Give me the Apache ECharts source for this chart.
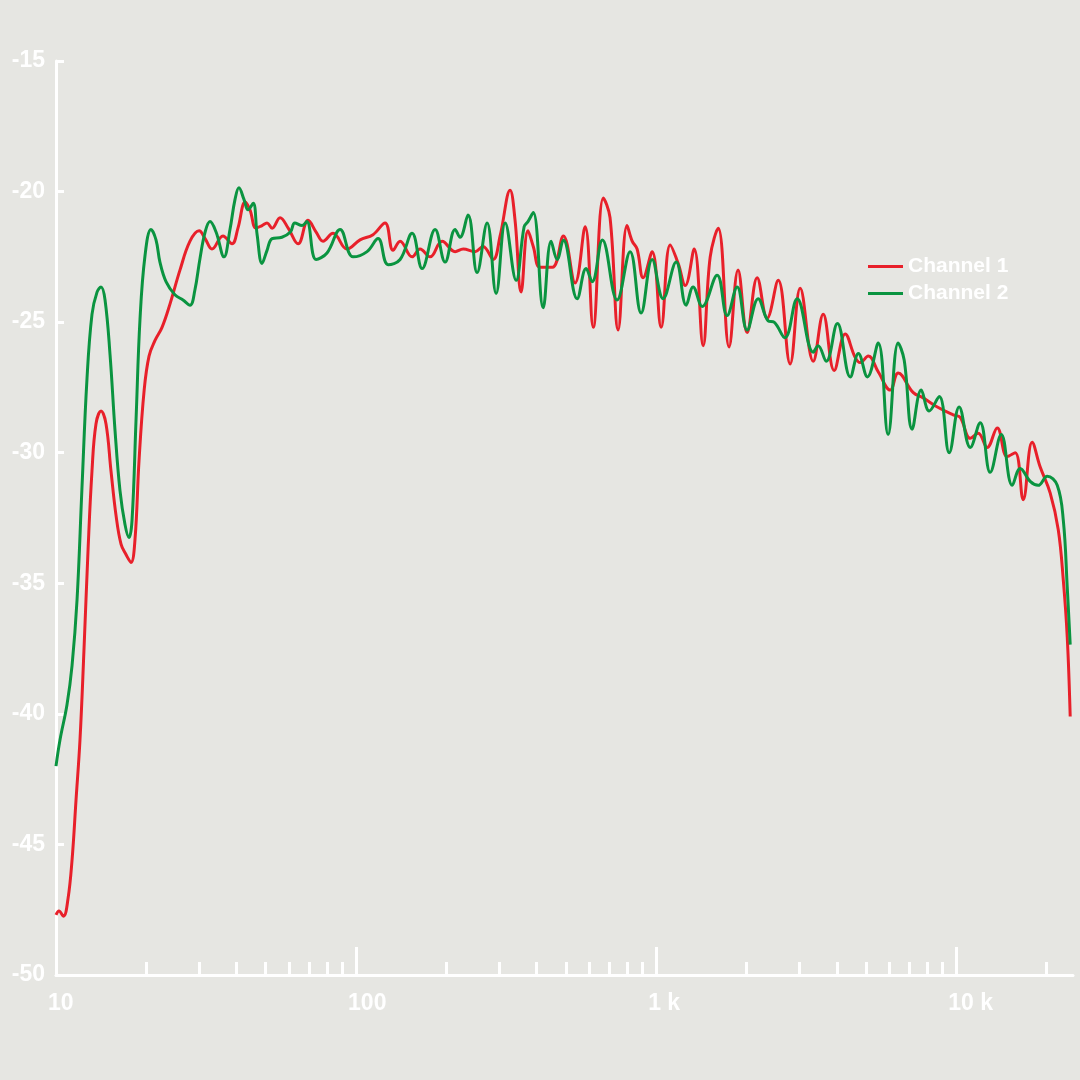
<!DOCTYPE html>
<html>
<head>
<meta charset="utf-8">
<script src="https://cdn.jsdelivr.net/npm/echarts@6/dist/echarts.min.js"></script>
<style>
html,body{margin:0;padding:0;background:#e6e6e2;}
#chart{width:1080px;height:1080px;}
</style>
</head>
<body>
<div id="chart"></div>
<script>
// Channel 1 (red)
const ch1Freq = [10,10.23,10.59,10.96,11.31,11.66,12.02,12.39,12.79,13.18,13.59,14.13,14.68,15.25,15.85,16.47,17.11,17.78,18.34,18.91,19.67,20.42,21.38,22.56,23.99,25.9,27.96,29.99,31.4,33.1,36.0,38.6,40.4,42.7,44.3,46.4,48.6,50.5,52.5,55.8,59.4,64.1,69.2,73.6,77.6,83.8,93.3,103.1,113.9,124.9,132.8,140.2,153.7,163.4,176.4,193.5,213.8,227.5,249.2,264.9,286.4,302,326,338.7,354.8,374,389.5,410.6,450.8,490.7,537,580,617,667,702,747,800,832,864,905,970,1039,1114,1184,1250,1339,1434,1514,1610,1750,1875,2010,2171,2344,2551,2796,3020,3338,3603,3920,4266,4605,4786,5093,5495,6026,6405,7194,7762,8650,9772,10310,11140,11840,12680,13700,14790,15730,16720,17910,19050,20570,21880,22750,23440,23980];
const ch1Db = [-47.7,-47.55,-47.75,-47.1,-45.6,-43.3,-41.0,-37.6,-33.7,-30.7,-28.9,-28.4,-28.9,-30.7,-32.4,-33.5,-33.9,-34.2,-33.3,-30.3,-27.6,-26.3,-25.7,-25.2,-24.3,-23.0,-21.9,-21.5,-21.8,-22.2,-21.7,-22.0,-21.4,-20.4,-20.7,-21.4,-21.3,-21.2,-21.4,-21.0,-21.4,-22.0,-21.1,-21.55,-21.9,-21.6,-22.2,-21.85,-21.65,-21.2,-22.25,-21.9,-22.5,-22.2,-22.5,-21.9,-22.3,-22.2,-22.3,-22.1,-22.6,-21.7,-19.95,-21.1,-23.85,-21.5,-22.1,-22.9,-22.9,-21.7,-23.5,-21.35,-25.2,-20.25,-21.0,-25.3,-21.3,-21.9,-22.2,-23.3,-22.3,-25.2,-22.05,-22.75,-23.6,-22.2,-25.9,-22.5,-21.4,-25.95,-23.0,-25.4,-23.3,-24.85,-23.4,-26.6,-23.7,-26.5,-24.7,-26.85,-25.45,-26.35,-26.55,-26.3,-26.9,-27.6,-26.95,-27.7,-27.9,-28.25,-28.55,-28.65,-29.45,-29.25,-29.8,-29.05,-30.15,-30.0,-31.8,-29.6,-30.55,-31.55,-32.95,-34.9,-37.05,-40.1];

// Channel 2 (green)
const ch2Freq = [10,10.31,10.88,11.31,11.75,12.2,12.68,13.18,13.7,14.13,14.57,15.14,15.73,16.34,16.98,17.5,17.92,18.48,19.05,19.8,20.73,21.54,22.2,23.26,24.9,26.5,27.96,29.0,30.2,31.4,32.6,34.15,36.3,38.0,39.5,40.7,42.3,43.65,45.4,46.8,48.6,50.5,52.5,56.6,60.4,62.5,66.1,68.5,73.6,80.0,88.5,97.7,108.8,118.4,127.9,140.2,153.7,166,183.4,198,213.8,222,236.1,253.1,273.3,292.9,314.1,341.5,363.1,374,389.5,420.2,446.7,467.7,490.7,545.5,584.3,612,662,741,819,891,970,1055,1166,1259,1328,1424,1597,1724,1862,2010,2188,2362,2472,2685,2951,3338,3467,3687,4018,4436,4721,5058,5495,5929,6405,6707,7129,7644,8128,8780,9477,10230,11140,12020,12980,14130,15370,16340,17640,18750,20100,21710,22750,23440,23980];
const ch2Db = [-42.0,-41.0,-39.65,-38.15,-35.65,-31.4,-27.2,-24.7,-23.85,-23.65,-24.15,-26.25,-29.15,-31.45,-32.75,-33.25,-32.6,-28.75,-24.9,-22.45,-21.45,-21.85,-22.7,-23.45,-23.95,-24.15,-24.35,-23.8,-22.55,-21.55,-21.15,-21.55,-22.5,-21.45,-20.3,-19.85,-20.3,-20.7,-20.45,-21.65,-22.75,-22.25,-21.8,-21.75,-21.55,-21.2,-21.3,-21.15,-22.6,-22.35,-21.45,-22.5,-22.3,-21.8,-22.8,-22.6,-21.6,-22.95,-21.45,-22.7,-21.45,-21.75,-20.9,-23.1,-21.2,-23.9,-21.2,-23.4,-21.35,-21.15,-20.8,-24.45,-21.9,-22.6,-21.85,-24.1,-22.95,-23.45,-21.85,-24.15,-22.3,-24.65,-22.6,-24.1,-22.7,-24.35,-23.65,-24.4,-23.2,-24.75,-23.65,-25.3,-24.1,-24.95,-25.0,-25.6,-24.1,-26.15,-25.9,-26.5,-25.05,-27.1,-26.2,-27.1,-25.8,-29.3,-25.8,-26.45,-29.1,-27.6,-28.4,-27.85,-30.0,-28.25,-29.8,-28.85,-30.75,-29.3,-31.25,-30.6,-31.1,-31.25,-30.9,-31.25,-32.6,-35.15,-37.35];

const xLabelValues = [10, 100, 1000, 10000];
const xLabelText = ['10', '100', '1 k', '10 k'];
const xMajorTicks = [100, 1000, 10000];
const xMinorTicks = [20,30,40,50,60,70,80,90,200,300,400,500,600,700,800,900,2000,3000,4000,5000,6000,7000,8000,9000,20000];
const seriesNames = ['Channel 1', 'Channel 2'];

const zip = (a, b) => a.map((v, i) => [v, b[i]]);
const WHITE = '#ffffff';
const FONT = "'Liberation Sans', Arial, sans-serif";

const chart = echarts.init(document.getElementById('chart'), null, {renderer: 'canvas'});
chart.setOption({
  backgroundColor: '#e6e6e2',
  animation: false,
  grid: {left: 56, right: 7, top: 61, bottom: 105, containLabel: false},
  legend: {
    orient: 'vertical', left: 863, top: 251,
    icon: 'rect', itemWidth: 35, itemHeight: 3, itemGap: 6,
    textStyle: {color: WHITE, fontSize: 21, fontWeight: 'bold', fontFamily: FONT},
    data: seriesNames
  },
  xAxis: [{
    type: 'log', logBase: 10, min: 10, max: 24500, position: 'bottom',
    axisLine: {show: true, lineStyle: {color: WHITE, width: 3}},
    axisTick: {show: true, inside: true, length: 28, customValues: xMajorTicks, lineStyle: {color: WHITE, width: 3}},
    axisLabel: {
      show: true, customValues: xLabelValues, margin: 17, align: 'left', padding: [0, 0, 0, -8],
      color: WHITE, fontSize: 23, fontWeight: 'bold', fontFamily: FONT,
      formatter: v => { const i = xLabelValues.indexOf(Math.round(v)); return i >= 0 ? xLabelText[i] : ''; }
    },
    splitLine: {show: false}, minorTick: {show: false}, minorSplitLine: {show: false}
  }, {
    type: 'log', logBase: 10, min: 10, max: 24500, position: 'bottom',
    axisLine: {show: false},
    axisTick: {show: true, inside: true, length: 13, customValues: xMinorTicks, lineStyle: {color: WHITE, width: 3}},
    axisLabel: {show: false},
    splitLine: {show: false}
  }],
  yAxis: {
    type: 'value', min: -50, max: -15, interval: 5,
    axisLine: {show: true, lineStyle: {color: WHITE, width: 3}},
    axisTick: {show: true, inside: true, length: 8, lineStyle: {color: WHITE, width: 3}},
    axisLabel: {color: WHITE, fontSize: 23, fontWeight: 'bold', fontFamily: FONT, margin: 11, padding: [0, 0, 6, 0]},
    splitLine: {show: false}
  },
  series: [{
    name: seriesNames[0], type: 'line', xAxisIndex: 0, data: zip(ch1Freq, ch1Db),
    symbol: 'none', smooth: 0.4, color: '#e8202a',
    lineStyle: {color: '#e8202a', width: 3}, z: 3
  }, {
    name: seriesNames[1], type: 'line', xAxisIndex: 0, data: zip(ch2Freq, ch2Db),
    symbol: 'none', smooth: 0.4, color: '#0a9440',
    lineStyle: {color: '#0a9440', width: 3}, z: 4
  }]
});
</script>
</body>
</html>
